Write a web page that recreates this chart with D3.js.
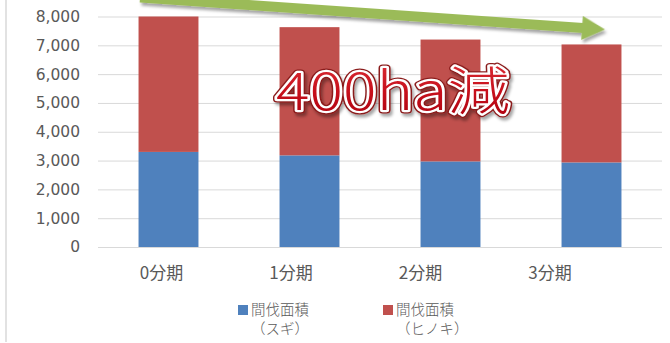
<!DOCTYPE html>
<html>
<head>
<meta charset="utf-8">
<script src="https://cdn.jsdelivr.net/npm/d3@7/dist/d3.min.js"></script>
<style>
  html, body { margin: 0; padding: 0; background: #fff; }
  svg { display: block; }
</style>
</head>
<body>
<svg id="chart" width="670" height="343"></svg>
<script>
// Thinning area per period (ha), stacked by species
const periods = ["0分期", "1分期", "2分期", "3分期"];
const sugi    = [3300, 3180, 2970, 2935];
const hinoki  = [4700, 4450, 4230, 4095];
const yTicks  = [0, 1000, 2000, 3000, 4000, 5000, 6000, 7000, 8000];
const seriesNames = [["間伐面積", "（スギ）"], ["間伐面積", "（ヒノキ）"]];
const seriesColors = ["#4f81bd", "#c0504d"];
const callout = "400ha減";

const svg = d3.select("#chart");
const W = 670, H = 343;
const plot = { left: 98, right: 662, top: 16.5, bottom: 247 };
const font = "'Noto Sans CJK JP', 'Noto Sans', sans-serif";
const textColor = "#595959";

const defs = svg.append("defs");
const shadow = defs.append("filter").attr("id", "shadow")
  .attr("x", "-20%").attr("y", "-50%").attr("width", "140%").attr("height", "200%");
shadow.append("feDropShadow").attr("dx", 2).attr("dy", 3).attr("stdDeviation", 1.8)
  .attr("flood-color", "#000").attr("flood-opacity", 0.35);
const grad = defs.append("linearGradient").attr("id", "redText")
  .attr("x1", 0).attr("y1", 0).attr("x2", 0).attr("y2", 1);
grad.append("stop").attr("offset", "0%").attr("stop-color", "#e0383e");
grad.append("stop").attr("offset", "55%").attr("stop-color", "#c8101c");
grad.append("stop").attr("offset", "100%").attr("stop-color", "#a8000e");

// chart area frame (left edge)
svg.append("line").attr("x1", 6).attr("x2", 6).attr("y1", 0).attr("y2", H - 1)
  .attr("stroke", "#d9d9d9").attr("stroke-width", 1.5);

const x = d3.scaleBand().domain(periods).range([plot.left, plot.right])
  .paddingInner(0.575).paddingOuter(0.2875);
const y = d3.scaleLinear().domain([0, 8000]).range([plot.bottom, plot.top]);

// gridlines
const grid = svg.append("g").attr("transform", `translate(${plot.left},0)`)
  .call(d3.axisLeft(y).tickValues(yTicks).tickSize(-(plot.right - plot.left)).tickFormat(""));
grid.select(".domain").remove();
grid.selectAll("line").attr("stroke", "#d9d9d9").attr("stroke-width", 1);

// y axis labels
const yAxis = svg.append("g").attr("transform", "translate(83,0)")
  .call(d3.axisLeft(y).tickValues(yTicks).tickSize(0).tickPadding(3).tickFormat(d3.format(",")));
yAxis.select(".domain").remove();
yAxis.selectAll("text").attr("font-family", "'DejaVu Sans', sans-serif")
  .attr("font-size", 15.5).attr("fill", textColor);

// stacked bars
const rows = periods.map((p, i) => ({ period: p, sugi: sugi[i], hinoki: hinoki[i] }));
const stack = d3.stack().keys(["sugi", "hinoki"])(rows);
svg.append("g").selectAll("g").data(stack).join("g")
  .attr("fill", (d, i) => seriesColors[i])
  .selectAll("rect").data(d => d).join("rect")
  .attr("x", d => x(d.data.period))
  .attr("width", x.bandwidth())
  .attr("y", d => y(d[1]))
  .attr("height", d => y(d[0]) - y(d[1]));

// category labels
const xl = d3.scalePoint().domain(periods).range([161.5, 550]);
svg.append("g").selectAll("text").data(periods).join("text")
  .attr("x", d => xl(d)).attr("y", 279)
  .attr("text-anchor", "middle")
  .attr("font-family", font).attr("font-size", 17).attr("fill", textColor)
  .text(d => d);

// legend
const lx = d3.scalePoint().domain([0, 1]).range([238, 383]);
const leg = svg.append("g").selectAll("g").data(seriesNames).join("g")
  .attr("transform", (d, i) => `translate(${lx(i)},0)`);
leg.append("rect").attr("x", 0).attr("y", 305).attr("width", 10).attr("height", 10)
  .attr("fill", (d, i) => seriesColors[i]);
leg.append("text").attr("x", 13).attr("y", 315)
  .attr("font-family", font).attr("font-size", 14.5).attr("font-weight", 300).attr("fill", textColor)
  .text(d => d[0]);
leg.append("text").attr("x", 13).attr("y", 334)
  .attr("font-family", font).attr("font-size", 14.5).attr("font-weight", 300).attr("fill", textColor)
  .text(d => d[1]);

// trend arrow
const a0 = [140, -2.5], a1 = [605, 29.5];
const len = Math.hypot(a1[0] - a0[0], a1[1] - a0[1]);
const ang = Math.atan2(a1[1] - a0[1], a1[0] - a0[0]) * 180 / Math.PI;
const hw = 5, headW = 12, headL = 23;
const arrowPts = [[0, -hw], [len - headL, -hw], [len - headL, -headW], [len, 0],
  [len - headL, headW], [len - headL, hw], [0, hw]];
svg.append("g").attr("transform", `translate(${a0[0]},${a0[1]}) rotate(${ang})`)
  .append("path").attr("d", d3.line()(arrowPts) + "Z")
  .attr("fill", "#9bbb59").attr("filter", "url(#shadow)");

// callout text
const tg = svg.append("g").attr("font-family", font).attr("font-size", 52).attr("font-weight", 300);
const tx = 276, ty = 110, tl = 234;
tg.append("text").attr("x", tx).attr("y", ty).attr("textLength", tl).attr("lengthAdjust", "spacingAndGlyphs")
  .attr("fill", "#7a1010").attr("stroke", "#8a1a1a").attr("stroke-width", 7)
  .attr("stroke-linejoin", "round").attr("filter", "url(#shadow)").text(callout);
tg.append("text").attr("x", tx).attr("y", ty).attr("textLength", tl).attr("lengthAdjust", "spacingAndGlyphs")
  .attr("fill", "#fff").attr("stroke", "#fff").attr("stroke-width", 4.5)
  .attr("stroke-linejoin", "round").text(callout);
tg.append("text").attr("x", tx).attr("y", ty).attr("textLength", tl).attr("lengthAdjust", "spacingAndGlyphs")
  .attr("fill", "url(#redText)").text(callout);
</script>
</body>
</html>
